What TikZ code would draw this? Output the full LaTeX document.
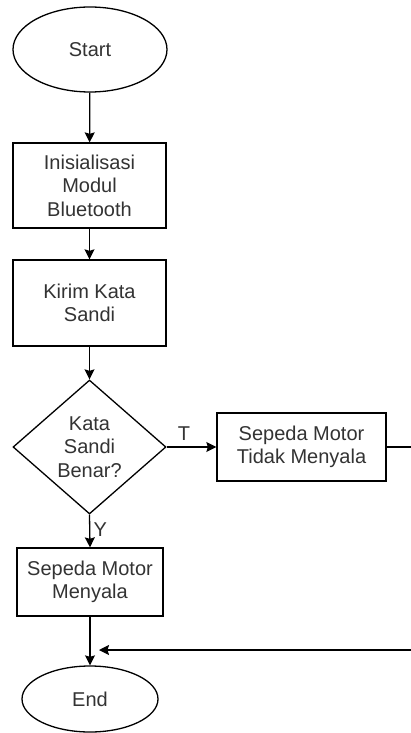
\documentclass[tikz,border=0pt]{standalone}
\usepackage{fontspec}
\setmainfont{Liberation Sans}
\usetikzlibrary{shapes.geometric,arrows.meta}
\definecolor{ink}{HTML}{333333}
\begin{document}
\begin{tikzpicture}[x=1pt,y=-1pt,
  every node/.style={font=\fontsize{20}{23.5}\selectfont,text=ink,align=center},
  base/.style={draw=black,line width=1.3pt,fill=white,inner sep=0pt},
  terminal/.style={base,ellipse},
  process/.style={base,rectangle},
  decision/.style={base,diamond,shape aspect=1.14},
  flow/.style={draw=black,line width=1.3pt,-{Stealth[length=10pt,width=10pt,inset=1.5pt]}},
  plain/.style={draw=black,line width=1.3pt},
  lbl/.style={font=\fontsize{20}{22}\selectfont}
]
\useasboundingbox (0,0) rectangle (411,733);
\fill[white] (0,0) rectangle (411,733);

\node[terminal,minimum width=154pt,minimum height=85pt] (start) at (90,49.5) {Start};
\node[process,minimum width=153pt,minimum height=85pt] (init) at (89.5,185.5) {Inisialisasi\\Modul\\Bluetooth};
\node[process,minimum width=153pt,minimum height=86pt] (kirim) at (89.5,303) {Kirim Kata\\Sandi};
\node[decision,minimum width=153pt,minimum height=134pt] (cek) at (89.5,447) {Kata\\Sandi\\Benar?};
\node[process,minimum width=169pt,minimum height=68pt] (mati) at (301.5,447) {Sepeda Motor\\Tidak Menyala};
\node[process,minimum width=146pt,minimum height=68pt] (nyala) at (90,582) {Sepeda Motor\\Menyala};
\node[terminal,minimum width=136pt,minimum height=66pt] (end) at (90,699) {End};

\coordinate (edgeA) at (411,447);
\coordinate (edgeB) at (411,650);
\coordinate (join) at (99,650);

\draw[flow] (start) -- (init);
\draw[flow] (init) -- (kirim);
\draw[flow] (kirim) -- (cek.north);
\draw[flow] (cek.east) -- node[lbl,above,pos=0.35,yshift=3pt] (t) {T} (mati.west);
\draw[flow] (cek.south) -- node[lbl,right,pos=0.45,xshift=0pt] (y) {Y} (nyala.north);
\draw[flow] (nyala.south) -- (end.north);
\draw[plain] (mati.east) -- (edgeA);
\draw[flow] (edgeB) -- (join);
\end{tikzpicture}
\end{document}
